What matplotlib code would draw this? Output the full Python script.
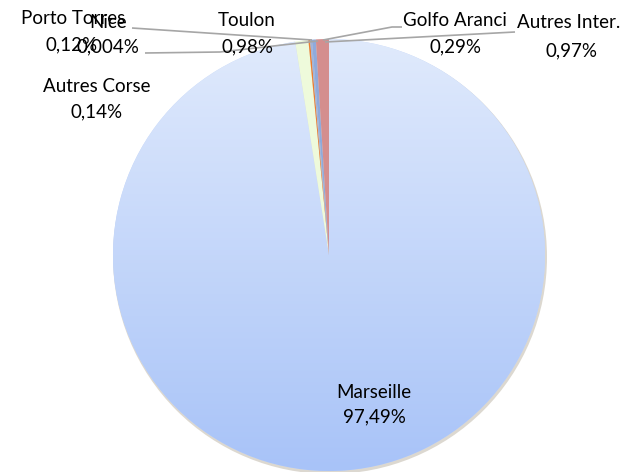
import numpy as np
import matplotlib
matplotlib.use("Agg")
import matplotlib.pyplot as plt
from matplotlib.patches import Circle

labels = ["Marseille", "Toulon", "Nice", "Porto Torres", "Autres Corse", "Golfo Aranci", "Autres Inter."]
values = [97.49, 0.98, 0.004, 0.12, 0.14, 0.29, 0.97]
pct_text = ["97,49%", "0,98%", "0,004%", "0,12%", "0,14%", "0,29%", "0,97%"]
colors = ["#c4d6f9", "#eefadb", "#ffc000", "#ed7d31", "#9fb3da", "#8faadc", "#d48e8e"]

W, H = 641, 472
fig = plt.figure(figsize=(W / 100, H / 100), dpi=100)
ax = fig.add_axes([0, 0, 1, 1])

cx, cy, r = 329, H - 255, 216

# subtle shadow
ax.add_patch(Circle((cx + 1, cy - 2), r + 1, facecolor="#dcd8d0", edgecolor="none", zorder=0))

wedges, _ = ax.pie(values, colors=colors, startangle=90, counterclock=False,
                   center=(cx, cy), radius=r, frame=True,
                   wedgeprops=dict(linewidth=0, edgecolor="none"))
ax.set_xlim(0, W)
ax.set_ylim(0, H)
ax.set_aspect("equal")
ax.axis("off")

# vertical gradient for Marseille
grad = np.linspace(0, 1, 256).reshape(-1, 1)
top = np.array([0xe0, 0xea, 0xfc]) / 255
bot = np.array([0xa8, 0xc3, 0xf8]) / 255
img = top[None, None, :] * (1 - grad[:, :, None]) + bot[None, None, :] * grad[:, :, None]
im = ax.imshow(img, extent=(cx - r, cx + r, cy - r, cy + r), origin="upper",
               aspect="auto", zorder=wedges[0].get_zorder() + 0.1)
im.set_clip_path(wedges[0])
for w in wedges[1:]:
    w.set_zorder(wedges[0].get_zorder() + 0.2)
ax.set_xlim(0, W)
ax.set_ylim(0, H)

font = "Lato"
fs = 13.5
label_pos = {
    "Marseille": (374, 392),
    "Toulon": (247, 21),
    "Nice": (108, 22),
    "Autres Corse": (97, 87),
    "Porto Torres": (73, 19),
    "Golfo Aranci": (455, 21),
    "Autres Inter.": (569, 23),
}
pct_pos = {
    "Marseille": (374, 417),
    "Toulon": (247, 47),
    "Nice": (108, 47),
    "Autres Corse": (97, 112),
    "Porto Torres": (72, 45),
    "Golfo Aranci": (456, 47),
    "Autres Inter.": (571, 51),
}
for lab, pt in zip(labels, pct_text):
    x, y = label_pos[lab]
    ax.text(x, H - y, lab, ha="center", va="center", fontsize=fs, family=font, color="#000000", zorder=10)
    x, y = pct_pos[lab]
    ax.text(x, H - y, pt, ha="center", va="center", fontsize=fs, family=font, color="#000000", zorder=10)

lc = "#a6a6a6"
leaders = [
    [(132, 28), (312, 40)],
    [(145, 53), (220, 52), (318, 41)],
    [(402, 27), (392, 27), (323, 40)],
    [(515, 32), (325, 42)],
]
for pts in leaders:
    xs = [p[0] for p in pts]
    ys = [H - p[1] for p in pts]
    ax.plot(xs, ys, color=lc, lw=1.2, zorder=9, solid_capstyle="butt")

fig.savefig("out.png", dpi=100)
